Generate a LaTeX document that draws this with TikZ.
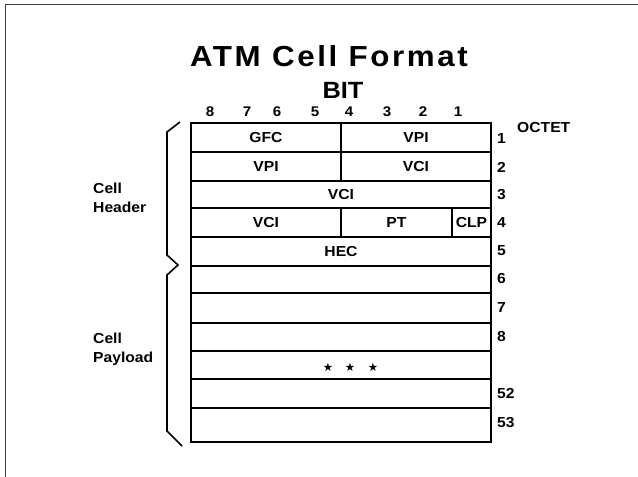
\documentclass[tikz,border=0pt]{standalone}
\usepackage{fontspec}
\setmainfont{Liberation Sans}[FakeStretch=1.08]
\newfontfamily\symfont{DejaVu Sans}
\begin{document}
\begin{tikzpicture}[x=1pt, y=-1pt, >=latex]
			\tikzset{
				field/.style={draw, line width=1.5pt, inner sep=0, outer sep=0,
						font=\bfseries\fontsize{14.5}{16}\selectfont},
				bitnum/.style={font=\bfseries\fontsize{14}{16}\selectfont, inner sep=0},
				octnum/.style={font=\bfseries\fontsize{14.5}{16}\selectfont, inner sep=0, anchor=west},
				side/.style={font=\bfseries\fontsize{14.5}{19}\selectfont, align=left, anchor=west, inner sep=0},
			}
			\useasboundingbox (0,0) rectangle (638,477);
			\draw[black!75, line width=1pt] (638,4) -- (5,4) -- (5,477);
			\node[font=\bfseries\fontsize{29}{32}\selectfont\addfontfeatures{LetterSpace=9}, anchor=base, inner sep=0] (title) at (329,66) {ATM Cell Format};
			\node[font=\bfseries\fontsize{23.5}{26}\selectfont, anchor=base, inner sep=0] (bit) at (343,98) {BIT};
			\foreach \b/\x in {8/210, 7/247, 6/277, 5/315, 4/349, 3/387, 2/423, 1/458}
				{
					\node[bitnum] (bit\b) at (\x,112) {\b};
				}
			\foreach \nm/\xa/\ya/\xb/\yb/\txt in {gfc/191/123/341/152/GFC, vpia/341/123/491/152/VPI,
					vpib/191/152/341/181/VPI, vcia/341/152/491/181/VCI,
					vcib/191/181/491/208/VCI,
					vcic/191/208/341/237/VCI, pt/341/208/452/237/PT, clp/452/208/491/237/CLP,
					hec/191/237/491/266/HEC,
					row6/191/266/491/293/{}, row7/191/293/491/323/{}, row8/191/323/491/351/{},
					rowdots/191/351/491/379/{}, row52/191/379/491/408/{}, row53/191/408/491/442/{}}
				{
					\node[field, minimum width={(\xb-\xa)*1pt}, minimum height={(\yb-\ya)*1pt}] (\nm)
					at ({(\xa+\xb)/2},{(\ya+\yb)/2}) {\txt};
				}
			\foreach \i/\x in {1/328, 2/350, 3/373}
				{
					\node[font=\symfont\fontsize{11.5}{12}\selectfont, inner sep=0] (star\i) at (\x,367) {★};
				}
			\node[octnum, anchor=base west] (octet) at (517,132) {OCTET};
			\foreach \o/\y in {1/139, 2/167, 3/195, 4/223, 5/251, 6/279, 7/308, 8/337, 52/394, 53/423}
				{
					\node[octnum] (oct\o) at (497,\y) {\o};
				}
			\draw[line width=1.6pt] (180,122) -- (167,132) -- (167,255) -- (178,265)
			-- (167,275) -- (167,431) -- (182,446);
			\node[side] (header) at (93,198) {Cell\\Header};
			\node[side] (payload) at (93,349) {Cell\\Payload};
		\end{tikzpicture}
\end{document}
